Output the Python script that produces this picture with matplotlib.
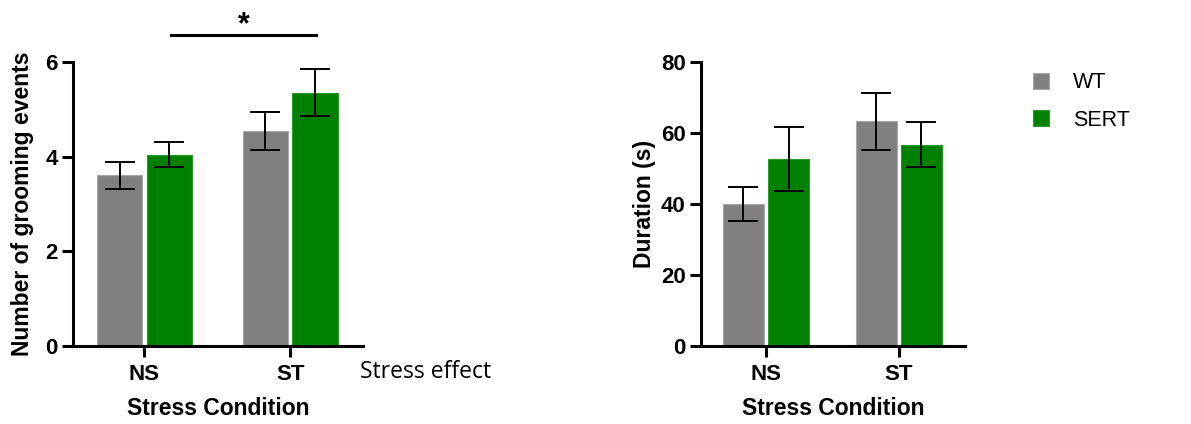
import matplotlib
matplotlib.use("Agg")
import matplotlib.pyplot as plt
import numpy as np

conditions = ["NS", "ST"]
genotypes = ["WT", "SERT"]
colors = ["#808080", "#008000"]

events_mean = {"WT": [3.6, 4.54], "SERT": [4.04, 5.35]}
events_sem = {"WT": [0.29, 0.40], "SERT": [0.27, 0.50]}

duration_mean = {"WT": [40.0, 63.3], "SERT": [52.6, 56.7]}
duration_sem = {"WT": [4.7, 8.0], "SERT": [9.1, 6.3]}

plt.rcParams["font.family"] = ["Liberation Sans", "DejaVu Sans"]

fig = plt.figure(figsize=(11.91, 4.24), dpi=100)
ax1 = fig.add_axes([0.0613, 0.1847, 0.2435, 0.669])
ax2 = fig.add_axes([0.5886, 0.1847, 0.2217, 0.669])

x = np.arange(len(conditions))
width = 0.31
offsets = [-0.17, 0.17]


def draw(ax, means, sems, ymax, yticks, ylabel):
    for i, g in enumerate(genotypes):
        ax.bar(x + offsets[i], means[g], width, color=colors[i],
               edgecolor="#a8a8a8" if i == 0 else "#2a9a2a", linewidth=0.8,
               label=g, zorder=2)
        ax.errorbar(x + offsets[i], means[g], yerr=sems[g], fmt="none",
                    ecolor="black", elinewidth=1.4, capsize=11, capthick=1.4,
                    zorder=3)
    ax.set_xlim(-0.49, 1.5)
    ax.set_ylim(0, ymax)
    ax.set_yticks(yticks)
    ax.set_xticks(x)
    ax.set_xticklabels(conditions)
    for s in ["top", "right"]:
        ax.spines[s].set_visible(False)
    for s in ["left", "bottom"]:
        ax.spines[s].set_linewidth(2.2)
    ax.tick_params(axis="both", width=2.2, length=8, labelsize=16, pad=3)
    ax.tick_params(axis="x", pad=5)
    for lab in ax.get_xticklabels() + ax.get_yticklabels():
        lab.set_fontweight("bold")
    ax.set_ylabel(ylabel, fontsize=16.5, fontweight="bold")
    ax.set_xlabel("Stress Condition", fontsize=16.5, fontweight="bold", labelpad=9)


draw(ax1, events_mean, events_sem, 6, [0, 2, 4, 6], "Number of grooming events")
draw(ax2, duration_mean, duration_sem, 80, [0, 20, 40, 60, 80], "Duration (s)")
ax1.yaxis.set_label_coords(-0.135, 0.5)
ax2.yaxis.set_label_coords(-0.17, 0.5)

# significance bar
ax1.plot([0.18, 1.18], [6.57, 6.57], color="black", lw=2.2, clip_on=False)
ax1.text(0.68, 6.78, "*", ha="center", va="center", fontsize=22, fontweight="bold")
ax1.text(1.48, -0.56, "Stress effect", ha="left", va="center", fontsize=16.5,
         family=["Open Sans", "DejaVu Sans"])

handles, labels = ax2.get_legend_handles_labels()
fig.legend(handles, labels, loc="upper left", bbox_to_anchor=(0.851, 0.875),
           frameon=False, fontsize=15.5, handlelength=0.75, handleheight=0.75,
           handletextpad=1.1, labelspacing=0.75)

fig.savefig("out.png", dpi=100)
